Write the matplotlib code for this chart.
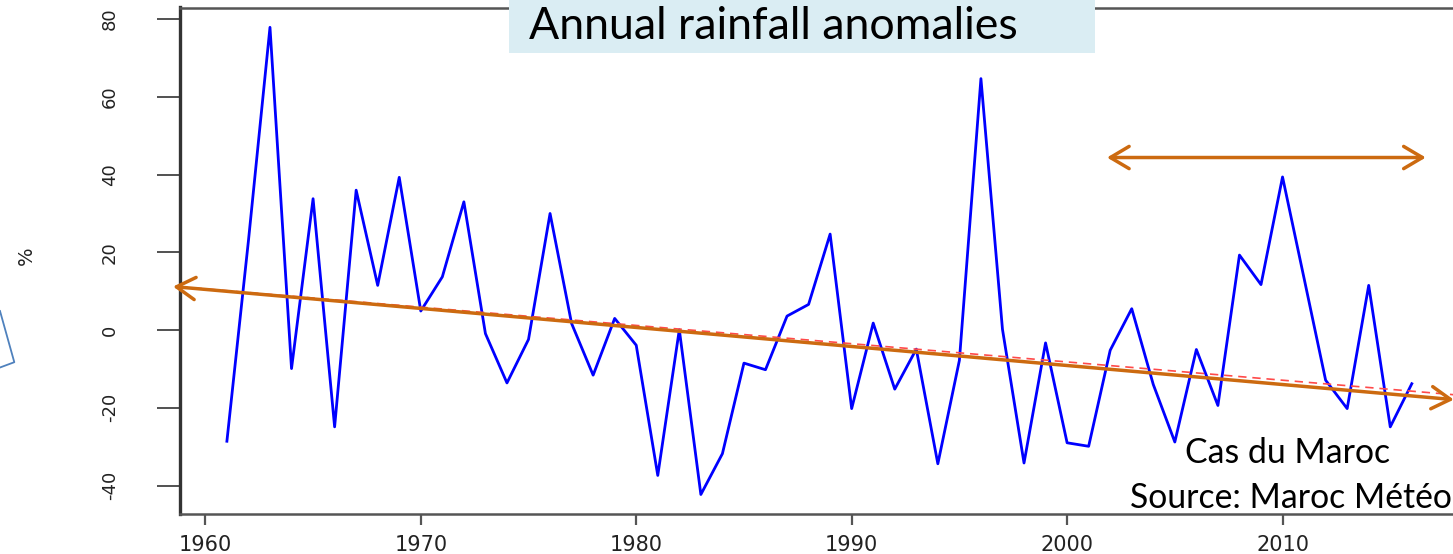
import matplotlib
matplotlib.use("Agg")
import matplotlib.pyplot as plt
from matplotlib.patches import Rectangle
from matplotlib.lines import Line2D

# ---------------- data ----------------
years = list(range(1961, 2017))
anomaly = [-28.6, 23.0, 77.9, -9.9, 33.8, -24.9, 36.0, 11.5, 39.3, 4.9,
           13.7, 33.0, -0.9, -13.6, -2.4, 30.0, 1.7, -11.6, 3.0, -3.9,
           -37.4, 0.1, -42.3, -31.8, -8.5, -10.2, 3.6, 6.6, 24.7, -20.2,
           1.8, -15.2, -4.9, -34.4, -7.8, 64.7, 0.2, -34.2, -3.3, -29.0,
           -29.9, -5.2, 5.5, -14.0, -28.8, -5.0, -19.4, 19.3, 11.7, 39.4,
           13.3, -12.9, -20.2, 11.5, -24.9, -13.8]
trend_years = [1958.8, 2018.2]
trend_values = [11.16, -16.75]
arrow_years = [1958.5, 2017.95]
arrow_values = [11.2, -17.9]
period_years = [2001.85, 2016.65]
period_value = 44.4
x_ticks = [1960, 1970, 1980, 1990, 2000, 2010]
y_ticks = [-40, -20, 0, 20, 40, 60, 80]
y_label = "%"
title = "Annual rainfall anomalies"
note_lines = ["Cas du Maroc", "Source: Maroc Météo"]

# ---------------- layout ----------------
W, H = 1453, 554
fig = plt.figure(figsize=(W / 100, H / 100), dpi=100)
fig.patch.set_facecolor("white")

def fx(px):
    return px / W

def fy(py):
    return 1 - py / H

ax_left, ax_right, ax_top, ax_bottom = 179.5, 1459.2, 7.5, 514.3
ax = fig.add_axes([fx(ax_left), fy(ax_bottom), fx(ax_right - ax_left),
                   (ax_bottom - ax_top) / H])
ax.set_xlim(1958.8, 2018.2)
ax.set_ylim(-47.4, 83.0)

orange = "#cc6a10"

ax.plot(years, anomaly, color="#0000ff", lw=2.0, zorder=3)
ax.plot(trend_years, trend_values, color="#ff4a4a", lw=1.2,
        dashes=(5, 3.5), zorder=4)

for xs, ys in [(arrow_years, arrow_values),
               (period_years, [period_value, period_value])]:
    ax.annotate("", xy=(xs[1], ys[1]), xytext=(xs[0], ys[0]),
                arrowprops=dict(arrowstyle="<->,head_length=1.35,head_width=0.8",
                                color=orange, lw=2.5, shrinkA=0, shrinkB=0,
                                mutation_scale=10),
                annotation_clip=False, zorder=5)

for s in ax.spines.values():
    s.set_color("#555555")
    s.set_linewidth(1.8)
ax.spines["left"].set_color("#333333")
ax.spines["left"].set_linewidth(2.4)

ax.set_xticks(x_ticks)
ax.set_xticklabels([str(t) for t in x_ticks], fontsize=15,
                   family="DejaVu Sans", color="#222222")
ax.set_yticks(y_ticks)
ax.set_yticklabels([str(t) for t in y_ticks], fontsize=13,
                   family="DejaVu Sans", color="#222222",
                   rotation=90, va="center")
ax.tick_params(axis="x", length=8, width=1.6, color="#555555", pad=7)
ax.tick_params(axis="y", length=16.6, width=1.2, color="#333333", pad=27)

fig.text(fx(26), fy(256), y_label, rotation=90, ha="center", va="center",
         fontsize=14, family="DejaVu Sans", color="#222222")

# title box
fig.patches.append(Rectangle((fx(509), fy(53.3)), fx(1095 - 509), 53.3 / H,
                             transform=fig.transFigure, facecolor="#daedf3",
                             edgecolor="none", zorder=1))
t_title = fig.text(fx(529), fy(39.3), title, ha="left", va="baseline",
                   fontsize=30, family="Lato", color="black", zorder=3)

t1 = fig.text(fx(1288), fy(463), note_lines[0], ha="center", va="baseline",
              fontsize=23, family="Lato", color="black", zorder=3)
t2 = fig.text(fx(1291), fy(508), note_lines[1], ha="center", va="baseline",
              fontsize=23, family="Lato", color="black", zorder=3)

# fit text widths to the reference
renderer = fig.canvas.get_renderer()
for t, target in [(t_title, 489.0), (t1, 205.0)]:
    w = t.get_window_extent(renderer).width
    t.set_fontsize(t.get_fontsize() * target / w)
t2.set_fontsize(t1.get_fontsize())

# partial shape outline at far left
fig.add_artist(Line2D([fx(0), fx(14.3), fx(0)], [fy(311), fy(362.2), fy(367.5)],
                      transform=fig.transFigure, color="#4f81bd", lw=1.3))

fig.savefig("out.png", dpi=100)
